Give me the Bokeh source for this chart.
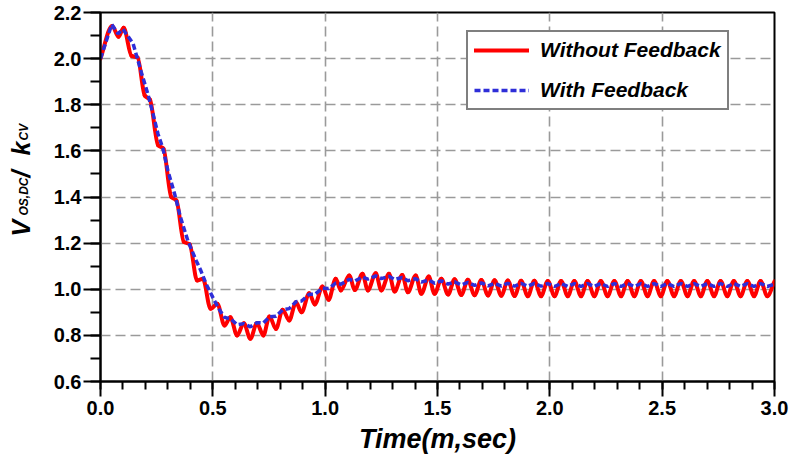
import numpy as np
from bokeh.plotting import figure
from bokeh.layouts import row
from bokeh.models import (Range1d, SingleIntervalTicker, NumeralTickFormatter, Legend,
                          LegendItem, Label, ColumnDataSource)
from bokeh.embed import file_html
from bokeh.resources import INLINE

# ---------------- data ----------------
red_t = [0.000, 0.052, 0.080, 0.103, 0.138, 0.165, 0.197, 0.220, 0.256, 0.280,
         0.315, 0.338, 0.371, 0.397, 0.430, 0.456, 0.490, 0.520, 0.552, 0.578,
         0.608, 0.638, 0.667, 0.696, 0.725, 0.752, 0.781, 0.811, 0.840, 0.870,
         0.895, 0.929, 0.954, 0.988, 1.015, 1.047, 1.070, 1.107, 1.132, 1.166,
         1.190, 1.225, 1.250, 1.284, 1.309, 1.343, 1.368, 1.403, 1.428, 1.461,
         1.487, 1.517, 1.547, 1.576, 1.606, 1.635, 1.665, 1.695, 1.725, 1.754,
         1.784, 1.813, 1.843, 1.872, 1.902, 1.931, 1.961, 1.991, 2.021, 2.050,
         2.080, 2.109, 2.139, 2.168, 2.198, 2.227, 2.257, 2.287, 2.317, 2.346,
         2.376, 2.405, 2.435, 2.464, 2.494, 2.523, 2.553, 2.583, 2.613, 2.642,
         2.672, 2.701, 2.731, 2.760, 2.790, 2.819, 2.849, 2.879, 2.909, 2.938,
         2.968, 3.000]
red_v = [2.000, 2.142, 2.095, 2.134, 2.012, 2.005, 1.840, 1.822, 1.625, 1.610,
         1.400, 1.385, 1.205, 1.195, 1.038, 1.045, 0.915, 0.937, 0.843, 0.879,
         0.800, 0.853, 0.785, 0.853, 0.800, 0.882, 0.828, 0.911, 0.865, 0.944,
         0.900, 0.983, 0.934, 1.012, 0.954, 1.045, 0.995, 1.060, 0.997, 1.067,
         0.995, 1.069, 0.995, 1.067, 0.990, 1.062, 0.987, 1.060, 0.980, 1.055,
         0.980, 1.045, 0.977, 1.043, 0.975, 1.041, 0.974, 1.040, 0.973, 1.039,
         0.972, 1.038, 0.971, 1.037, 0.970, 1.037, 0.970, 1.036, 0.970, 1.036,
         0.970, 1.036, 0.970, 1.036, 0.970, 1.036, 0.970, 1.036, 0.970, 1.036,
         0.970, 1.036, 0.970, 1.036, 0.970, 1.036, 0.970, 1.036, 0.970, 1.036,
         0.970, 1.036, 0.970, 1.036, 0.970, 1.036, 0.970, 1.036, 0.970, 1.036,
         0.970, 1.034]

blue_t = [0.000, 0.050, 0.078, 0.100, 0.145, 0.182, 0.211, 0.234, 0.256, 0.278,
          0.300, 0.330, 0.356, 0.389, 0.426, 0.447, 0.470, 0.507, 0.530, 0.552,
          0.580, 0.608, 0.638, 0.667, 0.696, 0.725, 0.752, 0.781, 0.811, 0.840,
          0.870, 0.895, 0.929, 0.954, 0.988, 1.015, 1.047, 1.070, 1.107, 1.132,
          1.166, 1.190, 1.225, 1.250, 1.284, 1.309, 1.343, 1.368, 1.403, 1.428,
          1.461, 1.487, 1.517, 1.547, 1.576, 1.606, 1.635, 1.665, 1.695, 1.725,
          1.754, 1.784, 1.813, 1.843, 1.872, 1.902, 1.931, 1.961, 1.991, 2.021,
          2.050, 2.080, 2.109, 2.139, 2.168, 2.198, 2.227, 2.257, 2.287, 2.317,
          2.346, 2.376, 2.405, 2.435, 2.464, 2.494, 2.523, 2.553, 2.583, 2.613,
          2.642, 2.672, 2.701, 2.731, 2.760, 2.790, 2.819, 2.849, 2.879, 2.909,
          2.938, 2.968, 3.000]
blue_v = [2.000, 2.148, 2.108, 2.128, 2.065, 1.940, 1.846, 1.760, 1.673, 1.610,
          1.514, 1.413, 1.312, 1.210, 1.124, 1.080, 1.023, 0.951, 0.910, 0.878,
          0.871, 0.846, 0.851, 0.837, 0.855, 0.854, 0.880, 0.883, 0.911, 0.916,
          0.946, 0.949, 0.978, 0.978, 1.004, 1.003, 1.027, 1.022, 1.043, 1.036,
          1.053, 1.044, 1.058, 1.046, 1.056, 1.042, 1.051, 1.037, 1.046, 1.031,
          1.040, 1.026, 1.036, 1.022, 1.032, 1.019, 1.030, 1.017, 1.028, 1.015,
          1.026, 1.014, 1.026, 1.013, 1.026, 1.013, 1.025, 1.013, 1.025, 1.012,
          1.025, 1.012, 1.025, 1.012, 1.025, 1.012, 1.025, 1.012, 1.025, 1.012,
          1.025, 1.012, 1.025, 1.012, 1.025, 1.012, 1.025, 1.012, 1.025, 1.012,
          1.025, 1.012, 1.025, 1.012, 1.025, 1.012, 1.025, 1.012, 1.025, 1.012,
          1.025, 1.012, 1.022]

series_labels = ["Without Feedback", "With Feedback"]
x_title = "Time(m,sec)"
# y title pieces: (text, is_subscript)
y_title_parts = [("V", False), ("OS,DC", True), ("/", False), ("k", False), ("CV", True)]

X0, X1, Y0, Y1 = 0.0, 3.0, 0.6, 2.2

FONT = "Liberation Sans"
H = 464
TW = 44            # width of the strip holding the rotated y title
W = 795 - TW
BL, BR, BT, BB = 56, 21, 12, 83

# ---------------- y-title strip ----------------
ty = figure(title=None, frame_width=TW, frame_height=H, output_backend="svg",
            toolbar_location=None,
            x_range=Range1d(0, TW), y_range=Range1d(0, H),
            x_axis_location=None, y_axis_location=None,
            min_border=0, min_border_left=0, min_border_right=0,
            min_border_top=0, min_border_bottom=0)
ty.outline_line_color = None
ty.xgrid.visible = False
ty.ygrid.visible = False
ty.background_fill_color = "white"
ty.border_fill_color = "white"
# pixel anchors (x from left, y from top) of each title piece
piece_pos = [(20, 224), (23, 203), (20, 165), (20, 143), (23, 128)]
for (txt, sub), (bx, by) in zip(y_title_parts, piece_pos):
    ty.add_layout(Label(x=bx, y=H - by, text=txt, angle=np.pi / 2,
                        text_font=FONT, text_font_style="bold italic",
                        text_font_size="12px" if sub else "25px",
                        text_color="black", text_align="left", text_baseline="alphabetic"))

# ---------------- main figure ----------------
p = figure(width=W, height=H, output_backend="svg", toolbar_location=None,
           x_range=Range1d(X0, X1), y_range=Range1d(Y0, Y1),
           min_border_left=BL, min_border_right=BR, min_border_top=BT, min_border_bottom=BB)
p.background_fill_color = "white"
p.border_fill_color = "white"
p.outline_line_color = "black"
p.outline_line_width = 2

for g in (p.xgrid, p.ygrid):
    g.grid_line_color = "#9a9a9a"
    g.grid_line_width = 1.6
    g.grid_line_dash = "10 5"

p.xaxis.ticker = SingleIntervalTicker(interval=0.5, num_minor_ticks=5)
p.yaxis.ticker = SingleIntervalTicker(interval=0.2, num_minor_ticks=2)
p.xgrid.ticker = p.xaxis.ticker
p.ygrid.ticker = p.yaxis.ticker
for ax in (p.xaxis, p.yaxis):
    ax.formatter = NumeralTickFormatter(format="0.0")
    ax.axis_line_color = "black"
    ax.axis_line_width = 2
    ax.major_tick_line_color = "black"
    ax.major_tick_line_width = 2
    ax.minor_tick_line_color = "black"
    ax.minor_tick_line_width = 2
    ax.major_tick_in = 0
    ax.minor_tick_in = 0
    ax.major_label_text_font = FONT
    ax.major_label_text_font_style = "bold"
    ax.major_label_text_font_size = "20px"
    ax.major_label_text_color = "black"
p.xaxis.major_tick_out = 15
p.xaxis.minor_tick_out = 8
p.xaxis.major_label_standoff = 4
p.yaxis.major_tick_out = 17
p.yaxis.minor_tick_out = 10
p.yaxis.major_label_standoff = 2

p.xaxis.axis_label = x_title
p.xaxis.axis_label_text_font = FONT
p.xaxis.axis_label_text_font_style = "bold italic"
p.xaxis.axis_label_text_font_size = "27px"
p.xaxis.axis_label_text_color = "black"
p.xaxis.axis_label_standoff = 6

# red curve: smooth bezier segments through the read points
rt = np.array(red_t); rv = np.array(red_v)
h = np.diff(rt)
d = np.diff(rv) / h
m = np.zeros_like(rv)
m[0] = d[0]
m[-1] = d[-1]
for i in range(1, len(rv) - 1):
    if d[i - 1] * d[i] > 0:
        m[i] = 2.0 / (1.0 / d[i - 1] + 1.0 / d[i])
red_src = ColumnDataSource(dict(
    x0=rt[:-1], y0=rv[:-1], x1=rt[1:], y1=rv[1:],
    cx0=rt[:-1] + h / 3, cy0=rv[:-1] + m[:-1] * h / 3,
    cx1=rt[1:] - h / 3, cy1=rv[1:] - m[1:] * h / 3))
red_r = p.bezier(x0="x0", y0="y0", x1="x1", y1="y1", cx0="cx0", cy0="cy0",
                 cx1="cx1", cy1="cy1", source=red_src,
                 line_color="#ff0000", line_width=4, line_cap="round")

blue_r = p.line(blue_t, blue_v, line_color="#2e2ed8", line_width=3.5, line_dash="6 3")

legend = Legend(items=[LegendItem(label=series_labels[0], renderers=[red_r]),
                       LegendItem(label=series_labels[1], renderers=[blue_r])],
                location=(366, 271))
legend.label_text_font = FONT
legend.label_text_font_style = "bold italic"
legend.label_text_font_size = "21px"
legend.label_text_color = "black"
legend.border_line_color = "black"
legend.border_line_width = 2
legend.background_fill_color = "white"
legend.background_fill_alpha = 1.0
legend.glyph_width = 55
legend.glyph_height = 24
legend.label_height = 24
legend.label_standoff = 11
legend.padding = 6
legend.spacing = 16
legend.margin = 0
p.add_layout(legend, "center")

layout = row(ty, p, spacing=0)
open("out.html", "w").write(file_html(layout, INLINE))
